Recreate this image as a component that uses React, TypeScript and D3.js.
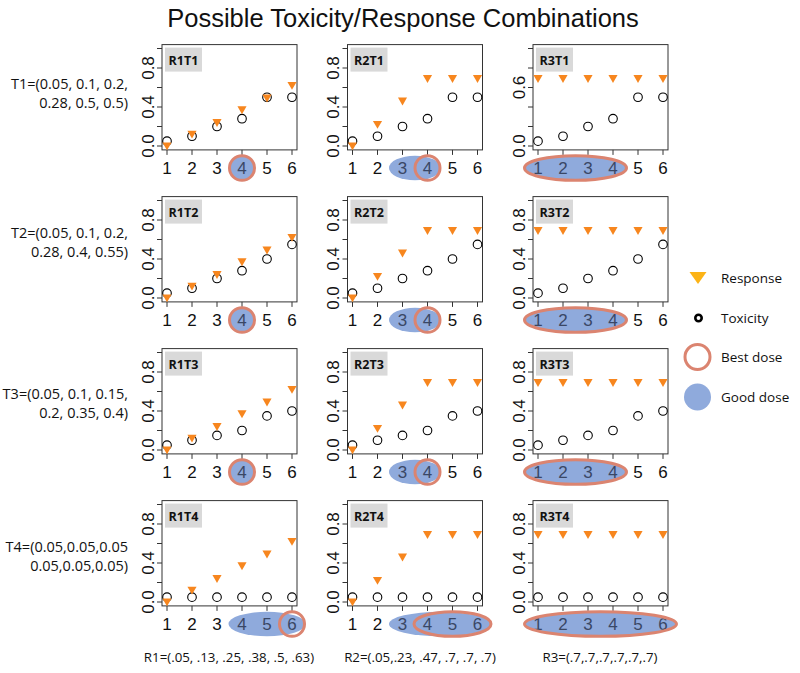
import React from "react";
import * as d3 from "d3";

const doses = [1, 2, 3, 4, 5, 6];
const responseR1 = [0.01, 0.13, 0.25, 0.38, 0.5, 0.63];
const responseR2 = [0.01, 0.23, 0.47, 0.7, 0.7, 0.7];
const responseR3 = [0.7, 0.7, 0.7, 0.7, 0.7, 0.7];
const toxT1 = [0.05, 0.1, 0.2, 0.28, 0.5, 0.5];
const toxT2 = [0.05, 0.1, 0.2, 0.28, 0.4, 0.55];
const toxT3 = [0.05, 0.1, 0.15, 0.2, 0.35, 0.4];
const toxT4 = [0.05, 0.05, 0.05, 0.05, 0.05, 0.05];

const responses = [responseR1, responseR2, responseR3];
const toxicities = [toxT1, toxT2, toxT3, toxT4];

const rowLabels = [
  ["T1=(0.05, 0.1, 0.2,", "0.28, 0.5, 0.5)"],
  ["T2=(0.05, 0.1, 0.2,", "0.28, 0.4, 0.55)"],
  ["T3=(0.05, 0.1, 0.15,", "0.2, 0.35, 0.4)"],
  ["T4=(0.05,0.05,0.05", "0.05,0.05,0.05)"],
];
const colLabels = [
  "R1=(.05, .13, .25, .38, .5, .63)",
  "R2=(.05,.23, .47, .7, .7, .7)",
  "R3=(.7,.7,.7,.7,.7,.7)",
];

// [row][col] -> [first dose, last dose]
const goodDoses = [
  [[4, 4], [3, 4], [1, 4]],
  [[4, 4], [3, 4], [1, 4]],
  [[4, 4], [3, 4], [1, 4]],
  [[4, 6], [3, 6], [1, 6]],
];
const bestDoses = [
  [[4, 4], [4, 4], [1, 4]],
  [[4, 4], [4, 4], [1, 4]],
  [[4, 4], [4, 4], [1, 4]],
  [[6, 6], [4, 6], [1, 6]],
];

const yTicks = [0, 0.2, 0.4, 0.6, 0.8, 1.0];
const yLabelsDefault = [0, 0.4, 0.8];
const yLabelsR3T1 = [0, 0.6];

const legendItems = ["Response", "Toxicity", "Best dose", "Good dose"];

const title = "Possible Toxicity/Response Combinations";

const colLeft = [162, 347.5, 533];
const rowZero = [146, 298, 450, 602];
const PX_PER_DOSE = 25;
const PX_PER_UNIT = 97.5;

const ORANGE = "#F7861E";
const BLUE = "#8FAADC";
const RED = "#DB8470";
const SIDE_FONT = "'Open Sans', 'Noto Sans', sans-serif";
const AXIS_FONT = "'Liberation Sans', Arial, sans-serif";

function Panel({ row, col }: { row: number; col: number }) {
  const left = colLeft[col];
  const y0 = rowZero[row];
  const x = d3
    .scaleLinear()
    .domain([0.8, 6.2])
    .range([left, left + 5.4 * PX_PER_DOSE]);
  const y = d3
    .scaleLinear()
    .domain([-0.04, 1.04])
    .range([y0 + 0.04 * PX_PER_UNIT, y0 - 1.04 * PX_PER_UNIT]);
  const [x0, x1] = x.range();
  const [yb, yt] = y.range();
  const resp = responses[col];
  const tox = toxicities[row];
  const labels = row === 0 && col === 2 ? yLabelsR3T1 : yLabelsDefault;
  const good = goodDoses[row][col];
  const best = bestDoses[row][col];
  const ey = y0 + 22;
  const ell = (r: number[]) => ({
    cx: x((r[0] + r[1]) / 2),
    rx: r[0] === r[1] ? 12.5 : (r[1] - r[0]) * 12.5 + 13.5,
    ry: 12.3,
  });
  const g = ell(good);
  const b = ell(best);
  const lo = Math.min(good[0], best[0]);
  const hi = Math.max(good[1], best[1]);
  const tri = d3.symbol().type(d3.symbolTriangle).size(36);
  return (
    <g>
      <rect x={x0} y={yt} width={x1 - x0} height={yb - yt} fill="none" stroke="#333" strokeWidth={1} />
      {/* y axis */}
      {yTicks.map((t) => (
        <line key={"yt" + t} x1={x0 - 5} x2={x0} y1={y(t)} y2={y(t)} stroke="#333" strokeWidth={1} />
      ))}
      {labels.map((t) => (
        <text
          key={"yl" + t}
          transform={`translate(${x0 - 14},${y(t)}) rotate(-90)`}
          textAnchor="middle"
          dominantBaseline="central"
          fontFamily={AXIS_FONT}
          fontSize={17}
          fill="#111"
        >
          {t.toFixed(1)}
        </text>
      ))}
      {/* x axis */}
      {doses.map((d) => (
        <line key={"xt" + d} x1={x(d)} x2={x(d)} y1={yb} y2={yb + 5} stroke="#333" strokeWidth={1} />
      ))}
      {/* label box */}
      <rect x={x0 + 3} y={yt + 3} width={37} height={24} fill="#D9D9D9" />
      <text
        x={x0 + 21.5}
        y={yt + 15.5}
        textAnchor="middle"
        dominantBaseline="central"
        fontFamily={SIDE_FONT}
        fontWeight="bold"
        fontSize={12.5}
        fill="#111"
      >
        {`R${col + 1}T${row + 1}`}
      </text>
      {/* points */}
      {doses.map((d, i) => (
        <circle key={"c" + d} cx={x(d)} cy={y(tox[i])} r={4.3} fill="none" stroke="#000" strokeWidth={1.1} />
      ))}
      {doses.map((d, i) => (
        <path
          key={"r" + d}
          d={tri() as string}
          transform={`translate(${x(d)},${y(resp[i])}) rotate(180)`}
          fill={ORANGE}
        />
      ))}
      {/* good / best dose */}
      <ellipse cx={g.cx} cy={ey} rx={g.rx} ry={g.ry} fill={BLUE} />
      {doses.map((d) => (
        <text
          key={"xl" + d}
          x={x(d)}
          y={ey + 6.3}
          textAnchor="middle"
          fontFamily={AXIS_FONT}
          fontSize={17}
          fill={d >= lo && d <= hi ? "#3A4765" : "#111"}
        >
          {d}
        </text>
      ))}
      <ellipse cx={b.cx} cy={ey} rx={b.rx} ry={b.ry} fill="none" stroke={RED} strokeWidth={3} />
    </g>
  );
}

export default function App() {
  const legendY = [278, 318, 357, 397];
  return (
    <svg
      width={800}
      height={673}
      style={{ position: "absolute", left: 0, top: 0, background: "#fff" }}
    >
      <rect width={800} height={673} fill="#fff" />
      <text x={403} y={27} textAnchor="middle" fontFamily={AXIS_FONT} fontSize={25.5} fill="#111">
        {title}
      </text>
      {rowZero.map((_, r) =>
        colLeft.map((_, c) => <Panel key={`${r}-${c}`} row={r} col={c} />)
      )}
      {rowLabels.map((lines, r) => {
        const yy = [83, 232, 393, 546][r];
        return (
          <g key={"rl" + r}>
            <text x={128} y={yy} textAnchor="end" dominantBaseline="central" fontFamily={SIDE_FONT} fontSize={14.5} fill="#111">
              {lines[0]}
            </text>
            <text x={128} y={yy + 19} textAnchor="end" dominantBaseline="central" fontFamily={SIDE_FONT} fontSize={14.5} fill="#111">
              {lines[1]}
            </text>
          </g>
        );
      })}
      {colLabels.map((t, c) => (
        <text
          key={"cl" + c}
          x={[229, 420, 600][c]}
          y={657}
          textAnchor="middle"
          dominantBaseline="central"
          fontFamily={SIDE_FONT}
          fontSize={13.3}
          fill="#111"
        >
          {t}
        </text>
      ))}
      {/* legend */}
      <path
        d={`M ${698 - 8.5} ${legendY[0] - 6} L ${698 + 8.5} ${legendY[0] - 6} L 698 ${legendY[0] + 6} Z`}
        fill="#FCB316"
      />
      <circle cx={698.5} cy={legendY[1]} r={3.2} fill="none" stroke="#000" strokeWidth={2.6} />
      <circle cx={697.5} cy={legendY[2]} r={12.5} fill="none" stroke={RED} strokeWidth={3} />
      <circle cx={697.5} cy={legendY[3]} r={13.5} fill={BLUE} />
      {legendItems.map((t, i) => (
        <text
          key={"lg" + t}
          x={721}
          y={legendY[i]}
          dominantBaseline="central"
          fontFamily={SIDE_FONT}
          fontSize={13.5}
          fill="#111"
        >
          {t}
        </text>
      ))}
    </svg>
  );
}
